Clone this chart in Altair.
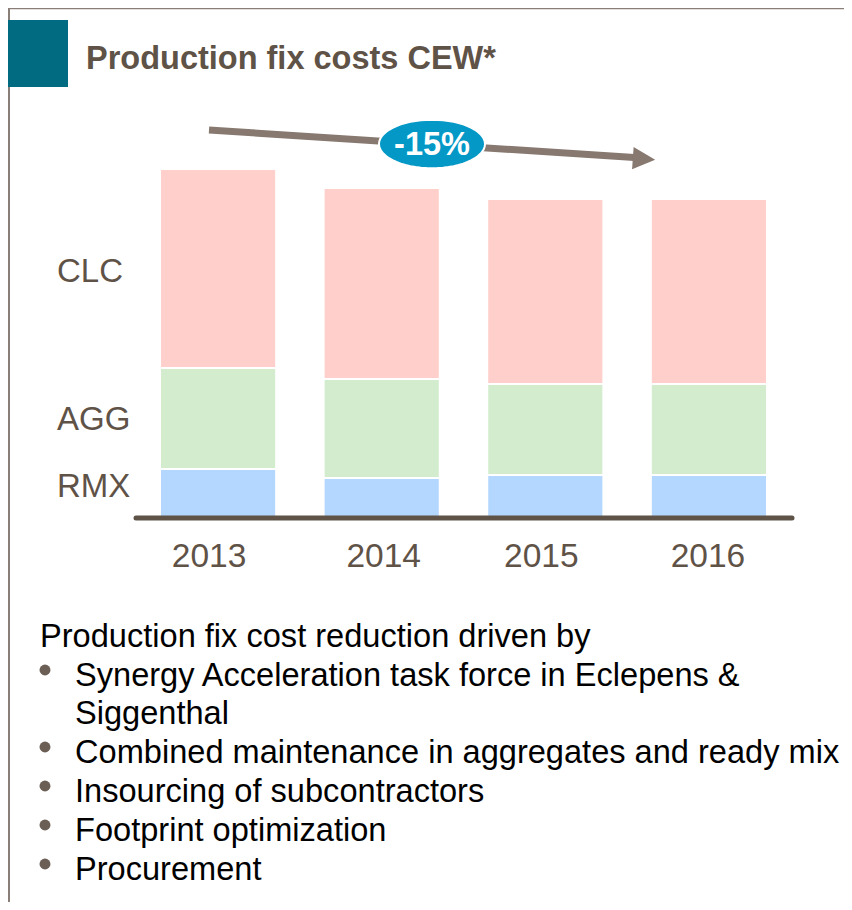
import altair as alt
import pandas as pd
import numpy as np

# ---- data ----
years = ["2013", "2014", "2015", "2016"]
rmx = [49, 40, 43, 43]
agg = [101, 99, 91, 91]
clc = [199, 191, 185, 185]
segments = ["RMX", "AGG", "CLC"]
seg_colors = ["#B3D7FE", "#D3ECCD", "#FFCFCC"]
title_text = "Production fix costs CEW*"
change_label = "-15%"
intro_text = "Production fix cost reduction driven by"
bullet_lines = [
    ("Synergy Acceleration task force in Eclepens &", True),
    ("Siggenthal", False),
    ("Combined maintenance in aggregates and ready mix", True),
    ("Insourcing of subcontractors", True),
    ("Footprint optimization", True),
    ("Procurement", True),
]

rows = []
for i, y in enumerate(years):
    for k, (seg, vals) in enumerate(zip(segments, [rmx, agg, clc])):
        rows.append({"year": y, "segment": seg, "value": vals[i], "order": k})
df = pd.DataFrame(rows)

FONT = "Liberation Sans"
BROWN = "#5F5247"
one = pd.DataFrame({"a": [0]})

xscale = alt.Scale(domain=years, range=[152, 759], paddingInner=0.29, paddingOuter=0)
yscale = alt.Scale(domain=[0, 349], range=[510, 161], nice=False, zero=True)

bars = alt.Chart(df).mark_bar(stroke="white", strokeWidth=2).encode(
    x=alt.X("year:N", scale=xscale, axis=None),
    y=alt.Y("value:Q", stack="zero", scale=yscale, axis=None),
    color=alt.Color("segment:N", scale=alt.Scale(domain=segments, range=seg_colors), legend=None),
    order=alt.Order("order:Q"),
)

baseline = alt.Chart(one).mark_rule(color=BROWN, strokeWidth=5, strokeCap="round").encode(
    x=alt.value(128), x2=alt.value(784), y=alt.value(510)
)

layers = [bars, baseline]

# year labels (slight label nudges as in the original slide)
label_dx = [-9, 2, -4, -1]
for yr, dx in zip(years, label_dx):
    layers.append(alt.Chart(pd.DataFrame({"year": [yr]})).mark_text(
        font=FONT, fontSize=33.5, color=BROWN, baseline="alphabetic", align="center", dx=dx
    ).encode(x=alt.X("year:N", scale=xscale, axis=None), y=alt.value(559), text="year:N"))


def text_layer(txt, x, y, size=32.6, color="black", bold=False, align="left"):
    return alt.Chart(one).mark_text(
        font=FONT, fontSize=size, color=color, fontWeight="bold" if bold else "normal",
        align=align, baseline="alphabetic"
    ).encode(x=alt.value(x), y=alt.value(y), text=alt.value(txt))


# segment labels
for seg, yy in zip(["CLC", "AGG", "RMX"], [274, 422, 489]):
    layers.append(text_layer(seg, 49, yy, size=33, color=BROWN))

# frame lines
layers.append(alt.Chart(one).mark_rule(color="#8A7F78", strokeWidth=2.5).encode(
    x=alt.value(-3), x2=alt.value(836), y=alt.value(0)))
layers.append(alt.Chart(one).mark_rule(color="#8A7F78", strokeWidth=2).encode(
    x=alt.value(1), y=alt.value(0), y2=alt.value(894)))

# teal square
layers.append(alt.Chart(one).mark_rect(color="#016B82").encode(
    x=alt.value(0), x2=alt.value(60), y=alt.value(12), y2=alt.value(79)))

# title
layers.append(text_layer(title_text, 78, 61, size=32.5, color=BROWN, bold=True))

# arrow
ARROW = "#877870"
layers.append(alt.Chart(one).mark_rule(color=ARROW, strokeWidth=7).encode(
    x=alt.value(201), y=alt.value(122), x2=alt.value(634), y2=alt.value(150)))
layers.append(alt.Chart(one).mark_point(
    shape="M1,0L-1,-1L-1,1Z", size=500, filled=True, fill=ARROW, stroke=ARROW,
    strokeWidth=0, opacity=1, fillOpacity=1, angle=4
).encode(x=alt.value(636), y=alt.value(151)))

# ellipse badge
t = np.linspace(0, 2 * np.pi, 61)[:-1]
ell_path = "M" + "L".join(f"{np.cos(a):.4f},{0.457 * np.sin(a):.4f}" for a in t) + "Z"
layers.append(alt.Chart(one).mark_point(
    shape=ell_path, size=106 * 106, filled=True, fill="#0398C6", stroke="white",
    strokeWidth=2, opacity=1, fillOpacity=1
).encode(x=alt.value(424), y=alt.value(136)))
layers.append(text_layer(change_label, 424, 147, size=32.5, color="white", bold=True, align="center"))

# body text
layers.append(text_layer(intro_text, 32, 639))
line_baselines = [678, 716, 755, 794, 833, 872]
for (txt, has_bullet), yy in zip(bullet_lines, line_baselines):
    layers.append(text_layer(txt, 67, yy))
    if has_bullet:
        layers.append(alt.Chart(one).mark_point(
            shape="circle", size=120, filled=True, color="#6B5E55", opacity=1
        ).encode(x=alt.value(37), y=alt.value(yy - 16)))

chart = alt.layer(*layers).properties(
    width=836, height=894, padding=0, autosize=alt.AutoSizeParams(type="none")
).configure_view(stroke=None)

chart.save("out.html", embed_options={"renderer": "svg", "actions": False})
